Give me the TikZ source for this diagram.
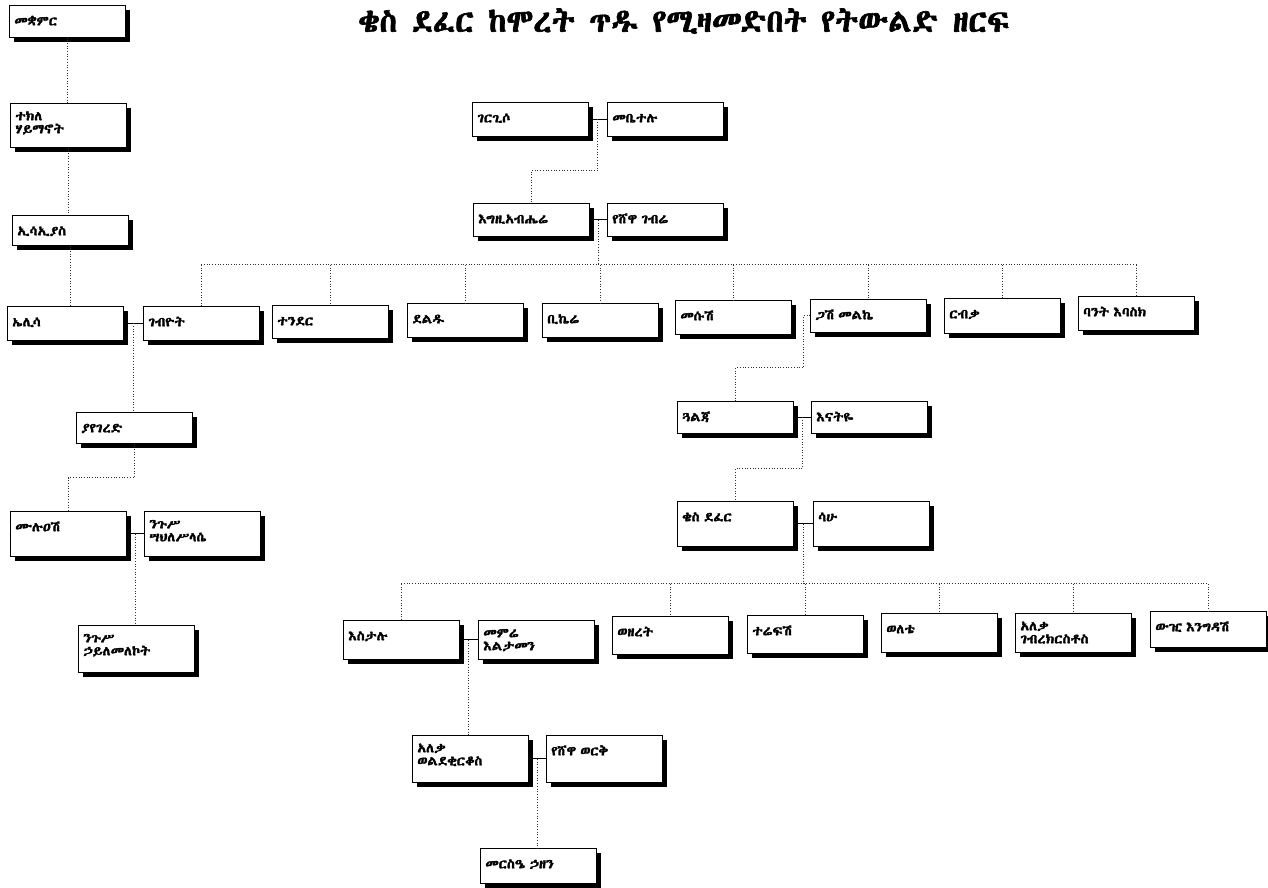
\documentclass[tikz,border=0pt]{standalone}
\usepackage{fontspec}
\usetikzlibrary{calc,shadows}
\IfFontExistsTF{Abyssinica SIL}
  {\newfontfamily\ethfont[FakeBold=2.5,FakeStretch=1.1]{Abyssinica SIL}
   \newfontfamily\ethtitle[FakeBold=2]{Abyssinica SIL}}
  {\newfontfamily\ethfont[FakeBold=2.5,FakeStretch=1.1]{FreeSerif}
   \newfontfamily\ethtitle[FakeBold=2]{FreeSerif}}
\tikzset{
  famnode/.style={draw=black, line width=0.6pt, fill=white, anchor=north west,
    minimum width=116pt, text width=106pt, align=left,
    inner xsep=5pt, inner ysep=6pt, text height=14pt, text depth=#1,
    font=\ethfont\fontsize{13}{13}\selectfont,
    drop shadow={opacity=1, fill=black, shadow xshift=5pt, shadow yshift=-5pt}},
  famnode/.default=8pt,
  twoline/.style={text height=11pt},
  kin/.style={draw=black!80, dotted, line width=0.7pt},
  wed/.style={draw=black, line width=0.8pt}
}
\begin{document}
\begin{tikzpicture}[x=1pt,y=-1pt]
\definecolor{fillColor}{RGB}{255,255,255}
\path[use as bounding box,fill=fillColor] (0,0) rectangle (1268,888);

% title
\node[font=\ethtitle\fontsize{32}{36}\selectfont, anchor=center] (title) at (684,21)
  {ቄስ ደፈር ከሞረት ጥዱ የሚዛመድበት የትውልድ ዘርፍ};

% left column
\node[famnode=6pt] (mqmr) at (9,5) {መቋምር};
\node[famnode=21pt, twoline] (tekle) at (10,103) {ተክለ\\ሃይማኖት};
\node[famnode=4pt] (isaias) at (12,215) {ኢሳኢያስ};
\node[famnode] (elisa) at (7,306) {ኤሊሳ};
\node[famnode=5pt] (yayegered) at (76,412) {ያየገረድ};
\node[famnode=19pt] (muluash) at (10,511) {ሙሉዐሽ};
\node[famnode=22pt, twoline] (sahle) at (144,511) {ንጉሥ\\ሣህለሥላሴ};
\node[famnode=24pt, twoline] (haile) at (78,625) {ንጉሥ\\ኃይለመለኮት};

% top couples
\node[famnode] (gergiso) at (472,102) {ገርጊሶ};
\node[famnode] (mebetelu) at (607,102) {መቤተሉ};
\node[famnode=7pt] (egzi) at (473,203) {እግዚአብሔሬ};
\node[famnode=7pt] (yeshewa) at (607,203) {የሸዋ ገብሬ};

% their children
\node[famnode] (gebyot) at (143,306) {ገብዮት};
\node[famnode=7pt] (tender) at (272,305) {ተንደር};
\node[famnode] (deldu) at (407,303) {ደልዱ};
\node[famnode] (bikere) at (542,303) {ቢኬሬ};
\node[famnode] (mesush) at (675,300) {መሱሽ};
\node[famnode=7pt] (gash) at (810,299) {ጋሽ መልኬ};
\node[famnode=9pt] (rbqa) at (944,298) {ርብቃ};
\node[famnode] (bant) at (1078,296) {ባንት እባስክ};

% middle couples
\node[famnode=6pt] (gualja) at (677,401) {ጓልጃ};
\node[famnode=6pt] (enatye) at (811,401) {እናትዬ};
\node[famnode=19pt] (defar) at (677,501) {ቄስ ደፈር};
\node[famnode=19pt] (sahu) at (813,501) {ሳሁ};

% children of qes defar
\node[famnode=13pt] (estalu) at (343,620) {እስታሉ};
\node[famnode=16pt, twoline] (memre) at (478,620) {መምሬ\\እልታመን};
\node[famnode=12pt] (wezeret) at (612,616) {ወዘረት};
\node[famnode=12pt] (terefsh) at (747,615) {ተሬፍሽ};
\node[famnode=13pt] (welete) at (881,613) {ወለቴ};
\node[famnode=16pt, twoline] (gebrekr) at (1015,613) {አለቃ\\ገብረክርስቶስ};
\node[famnode=10pt] (wuzhi) at (1150,611) {ውዢ እንግዳሽ};

% bottom
\node[famnode=24pt, twoline] (wolde) at (412,735) {አለቃ\\ወልደቂርቆስ};
\node[famnode=21pt] (yeshewaw) at (546,735) {የሸዋ ወርቅ};
\node[famnode=9pt] (mersie) at (480,848) {መርስዔ ኃዘን};

% marriages
\draw[wed] (gergiso.east) -- (gergiso.east -| mebetelu.west) coordinate[pos=.5] (m1);
\draw[wed] (egzi.east) -- (egzi.east -| yeshewa.west) coordinate[pos=.5] (m2);
\draw[wed] (elisa.east) -- (elisa.east -| gebyot.west) coordinate[pos=.5] (m7);
\draw[wed] (muluash.east) -- (muluash.east -| sahle.west) coordinate[pos=.5] (m8);
\draw[wed] (gualja.east) -- (gualja.east -| enatye.west) coordinate[pos=.5] (m3);
\draw[wed] (defar.east) -- (defar.east -| sahu.west) coordinate[pos=.5] (m4);
\draw[wed] (estalu.east) -- (estalu.east -| memre.west) coordinate[pos=.5] (m5);
\draw[wed] (wolde.east) -- (wolde.east -| yeshewaw.west) coordinate[pos=.5] (m6);

% descent, left column
\draw[kin] (mqmr.south) -- (mqmr.south |- tekle.north);
\draw[kin] (tekle.south) -- (tekle.south |- isaias.north);
\draw[kin] (isaias.south) -- (isaias.south |- elisa.north);
\draw[kin] (m7) -- (m7 |- yayegered.north);
\draw[kin] (yayegered.south) -- ++(0,34) -| (muluash.north);
\draw[kin] (m8) -- (m8 |- haile.north);

% descent, centre
\draw[kin] (m1) -- ++(0,51) -| (egzi.north);
\draw[kin] (m2) -- ++(0,45) coordinate (bus1);
\draw[kin] (gebyot.north |- bus1) -- (bant.north |- bus1);
\foreach \k in {gebyot,tender,deldu,bikere,mesush,gash,rbqa,bant}
  \draw[kin] (\k.north |- bus1) -- (\k.north);
\draw[kin] (gash.west) -- ++(-7,0) -- ++(0,52) -| (gualja.north);
\draw[kin] (m3) -- ++(0,51) -| (defar.north);
\draw[kin] (m4) -- ++(0,60) coordinate (bus2);
\draw[kin] (estalu.north |- bus2) -- (wuzhi.north |- bus2);
\foreach \k in {estalu,wezeret,terefsh,welete,gebrekr,wuzhi}
  \draw[kin] (\k.north |- bus2) -- (\k.north);
\draw[kin] (m5) -- (m5 |- wolde.north);
\draw[kin] (m6) -- (m6 |- mersie.north);
\end{tikzpicture}
\end{document}
